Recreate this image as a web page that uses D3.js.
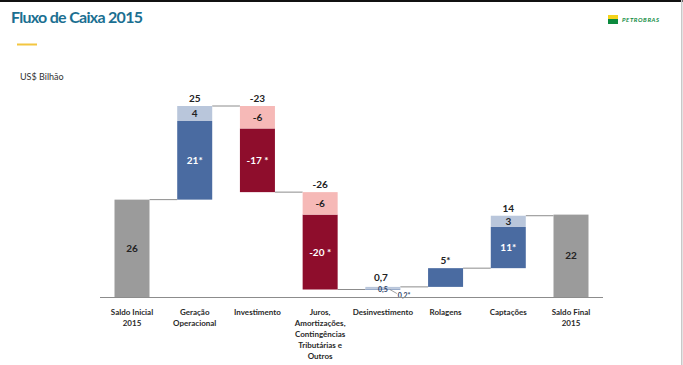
<!DOCTYPE html>
<html>
<head>
<meta charset="utf-8">
<script src="https://cdn.jsdelivr.net/npm/d3@7"></script>
<style>
  body { margin: 0; background: #fff; }
  svg { display: block; font-family: Lato, "Open Sans", sans-serif; }
</style>
</head>
<body>
<svg id="chart"></svg>
<script>
// values in US$ bilhão
const categories = ["Saldo Inicial 2015", "Geração Operacional", "Investimento",
  "Juros, Amortizações, Contingências Tributárias e Outros", "Desinvestimento",
  "Rolagens", "Captações", "Saldo Final 2015"];
const labelLines = [["Saldo Inicial", "2015"], ["Geração", "Operacional"], ["Investimento"],
  ["Juros,", "Amortizações,", "Contingências", "Tributárias e", "Outros"],
  ["Desinvestimento"], ["Rolagens"], ["Captações"], ["Saldo Final", "2015"]];
const kinds = ["total", "delta", "delta", "delta", "delta", "delta", "delta", "total"];
const mainValues = [26, 21, -17, -20, 0.2, 5, 11, 22];
const extraValues = [0, 4, -6, -6, 0.5, 0, 3, 0];
const mainLabels = ["26", "21*", "-17 *", "-20 *", "", "", "11*", "22"];
const extraLabels = ["", "4", "-6", "-6", "", "", "3", ""];
const topLabels = ["", "25", "-23", "-26", "0,7", "5*", "14", ""];

const W = 683, H = 365;
const svg = d3.select("#chart").attr("width", W).attr("height", H);

// frame bits of the slide
svg.append("rect").attr("x", 0).attr("y", 0).attr("width", W).attr("height", 2).attr("fill", "#111");
svg.append("rect").attr("x", 681).attr("y", 0).attr("width", 1.5).attr("height", H).attr("fill", "#c8c8c8");

svg.append("text").attr("x", 11).attr("y", 23)
  .attr("font-size", 16).attr("font-weight", 700).attr("fill", "#1b6f91")
  .attr("textLength", 132)
  .text("Fluxo de Caixa 2015");
svg.append("rect").attr("x", 17).attr("y", 43.5).attr("width", 20).attr("height", 2).attr("fill", "#f3c640");
svg.append("text").attr("x", 20).attr("y", 80)
  .attr("font-size", 9).attr("fill", "#333")
  .text("US$ Bilhão");

// petrobras logo
const logo = svg.append("g").attr("transform", "translate(608,15)");
logo.append("rect").attr("width", 10).attr("height", 4).attr("fill", "#f4d31a");
logo.append("rect").attr("y", 4).attr("width", 10).attr("height", 5).attr("fill", "#0c8a3e");
logo.append("text").attr("x", 14).attr("y", 7)
  .attr("font-size", 6).attr("font-weight", 700).attr("font-style", "italic")
  .attr("fill", "#0c8a3e").attr("letter-spacing", 0.6)
  .text("PETROBRAS");

// waterfall geometry
let level = 0;
const bars = categories.map((c, i) => {
  let d;
  if (kinds[i] === "total") {
    d = { cat: c, i, kind: "total", start: 0, end: mainValues[i] };
    level = mainValues[i];
  } else {
    const total = mainValues[i] + extraValues[i];
    const lo = Math.min(level, level + total);
    const hi = Math.max(level, level + total);
    d = { cat: c, i, kind: total >= 0 ? "pos" : "neg", start: level, end: level + total,
          mainLo: lo, mainHi: lo + Math.abs(mainValues[i]), extraLo: lo + Math.abs(mainValues[i]), extraHi: hi };
    level += total;
  }
  return d;
});

const x = d3.scalePoint().domain(categories).range([132, 571]);
const y = d3.scaleLinear().domain([0, 51]).range([297, 106]);
const bw = 35;

const colors = {
  total: "#9b9b9b",
  posMain: "#4a6ba1", posExtra: "#b9c6db",
  negMain: "#8e0d2c", negExtra: "#f6b9b7"
};

const g = svg.append("g");

// connectors
bars.slice(0, -1).forEach((d, i) => {
  g.append("line")
    .attr("x1", x(d.cat) + bw / 2).attr("x2", x(bars[i + 1].cat) - bw / 2)
    .attr("y1", y(d.end)).attr("y2", y(d.end))
    .attr("stroke", "#8c8c8c").attr("stroke-width", 1);
});

bars.forEach(d => {
  const x0 = x(d.cat) - bw / 2;
  if (d.kind === "total") {
    g.append("rect").attr("x", x0).attr("width", bw)
      .attr("y", y(d.end)).attr("height", y(0) - y(d.end)).attr("fill", colors.total);
    g.append("text").attr("x", x(d.cat)).attr("y", (y(d.end) + y(0)) / 2 + 3.5)
      .attr("text-anchor", "middle").attr("font-size", 10).attr("font-weight", 700).attr("fill", "#222")
      .text(mainLabels[d.i]);
    return;
  }
  const pos = d.kind === "pos";
  g.append("rect").attr("x", x0).attr("width", bw)
    .attr("y", y(d.mainHi)).attr("height", Math.max(y(d.mainLo) - y(d.mainHi), 0.8))
    .attr("fill", pos ? colors.posMain : colors.negMain);
  if (extraValues[d.i] !== 0) {
    g.append("rect").attr("x", x0).attr("width", bw)
      .attr("y", y(d.extraHi)).attr("height", y(d.extraLo) - y(d.extraHi))
      .attr("fill", pos ? colors.posExtra : colors.negExtra);
  }
  if (mainLabels[d.i]) {
    g.append("text").attr("x", x(d.cat)).attr("y", (y(d.mainLo) + y(d.mainHi)) / 2 + 3.5)
      .attr("text-anchor", "middle").attr("font-size", 10).attr("font-weight", 700).attr("fill", "#fff")
      .text(mainLabels[d.i]);
  }
  if (extraLabels[d.i]) {
    g.append("text").attr("x", x(d.cat)).attr("y", (y(d.extraLo) + y(d.extraHi)) / 2 + 3.5)
      .attr("text-anchor", "middle").attr("font-size", 10).attr("font-weight", 700).attr("fill", "#222")
      .text(extraLabels[d.i]);
  }
  if (topLabels[d.i]) {
    const tiny = Math.abs(d.end - d.start) < 2;
    g.append("text").attr("x", x(d.cat) - (tiny ? 2 : 0)).attr("y", y(Math.max(d.start, d.end)) - (tiny ? 6 : 4))
      .attr("text-anchor", "middle").attr("font-size", 10).attr("font-weight", 700).attr("fill", "#222")
      .text(topLabels[d.i]);
  }
});

// small labels for the tiny Desinvestimento bar
const di = 4, dd = bars[di];
g.append("text").attr("x", x(dd.cat)).attr("y", y(dd.extraHi) + 5)
  .attr("text-anchor", "middle").attr("font-size", 7).attr("font-weight", 700).attr("fill", "#2d3f66")
  .text(String(extraValues[di]).replace(".", ","));
g.append("line")
  .attr("x1", x(dd.cat) + 7).attr("y1", y(dd.mainLo))
  .attr("x2", x(dd.cat) + 14).attr("y2", y(dd.mainLo) + 4)
  .attr("stroke", "#888").attr("stroke-width", 0.8);
g.append("text").attr("x", x(dd.cat) + 15).attr("y", y(dd.mainLo) + 8)
  .attr("font-size", 7).attr("font-weight", 700).attr("fill", "#2d3f66")
  .text(String(mainValues[di]).replace(".", ",") + "*");

// baseline and category labels
svg.append("line").attr("x1", 100).attr("x2", 603).attr("y1", y(0) + 0.5).attr("y2", y(0) + 0.5)
  .attr("stroke", "#8c8c8c").attr("stroke-width", 1.2);

categories.forEach((c, i) => {
  const t = svg.append("text").attr("x", x(c)).attr("y", 315)
    .attr("text-anchor", "middle").attr("font-size", 8).attr("font-weight", 700).attr("fill", "#2a2a2a");
  labelLines[i].forEach((l, k) => {
    t.append("tspan").attr("x", x(c)).attr("dy", k === 0 ? 0 : 11).text(l);
  });
});
</script>
</body>
</html>
